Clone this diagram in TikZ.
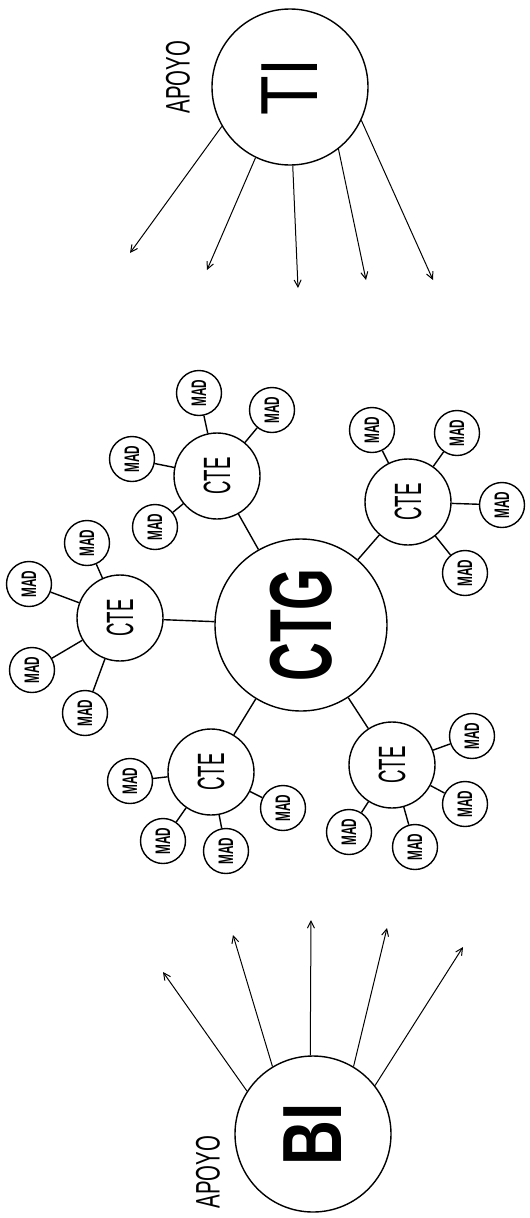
\documentclass[tikz,border=0pt]{standalone}
\usepackage{fontspec}
\setmainfont{Liberation Sans}
\usepackage{graphicx}
\usetikzlibrary{arrows.meta}
\newcommand\vlabel[3]{\rotatebox{90}{\fontsize{#1}{#1}\selectfont\scalebox{#2}[1]{#3}}}
\begin{document}
\begin{tikzpicture}[x=1pt,y=-1pt, line width=1.4pt,
  ctg/.style={circle,draw,minimum size=172pt,inner sep=0pt},
  cte/.style={circle,draw,minimum size=86pt,inner sep=0pt},
  mad/.style={circle,draw,minimum size=45pt,inner sep=0pt},
  big/.style={circle,draw,minimum size=156pt,inner sep=0pt},
  arr/.style={-{Straight Barb[length=7pt,width=7pt]}, line width=1pt},
  link/.style={line width=1.4pt}]
\useasboundingbox (0,0) rectangle (530,1218);
\fill[white] (0,0) rectangle (530,1218);

% TI group
\node[big] (ti) at (290,87) {\vlabel{81}{0.8}{TI}};
\node (apoyo1) at (178,77) {\vlabel{34}{0.6}{APOYO}};
\coordinate (t1) at (130,253);
\coordinate (t2) at (207,270);
\coordinate (t3) at (298,288);
\coordinate (t4) at (366,280);
\coordinate (t5) at (433,280);
\draw[arr] (ti.-150) -- (t1);
\draw[arr] (ti.-116) -- (t2);
\draw[arr] (ti.-88) -- (t3);
\draw[arr] (ti.-52) -- (t4);
\draw[arr] (ti.-25) -- (t5);

% CTG
\node[ctg] (ctg) at (301,625) {\vlabel{88}{0.61}{\bfseries CTG}};

% CTE nodes
\node[cte] (cA) at (217,476) {\vlabel{38}{0.49}{CTE}};
\node[cte] (cB) at (120,618) {\vlabel{38}{0.49}{CTE}};
\node[cte] (cC) at (408,502) {\vlabel{38}{0.49}{CTE}};
\node[cte] (cD) at (211,772) {\vlabel{38}{0.49}{CTE}};
\node[cte] (cE) at (392,765) {\vlabel{38}{0.49}{CTE}};
\foreach \c in {cA,cB,cC,cD,cE} \draw[link] (ctg) -- (\c);

% MAD nodes
\foreach \n/\p/\c in {a1/{(132,459)}/cA, a2/{(155,527)}/cA, a3/{(199,393)}/cA, a4/{(272,410)}/cA,
  b1/{(87,543)}/cB, b2/{(29,584)}/cB, b3/{(32,670)}/cB, b4/{(85,713)}/cB,
  c1/{(372,430)}/cC, c2/{(457,433)}/cC, c3/{(502,505)}/cC, c4/{(465,573)}/cC,
  d1/{(130,781)}/cD, d2/{(283,808)}/cD, d3/{(163,841)}/cD, d4/{(226,851)}/cD,
  e1/{(472,736)}/cE, e2/{(465,804)}/cE, e3/{(349,832)}/cE, e4/{(415,847)}/cE}
{
  \node[mad] (\n) at \p {\vlabel{21}{0.56}{\bfseries MAD}};
  \draw[link] (\c) -- (\n);
}

% BI group
\node[big] (bi) at (313,1134) {\vlabel{84}{0.74}{\bfseries BI}};
\node (apoyo2) at (208,1172) {\vlabel{34}{0.6}{APOYO}};
\coordinate (b1) at (163,972);
\coordinate (b2) at (233,935);
\coordinate (b3) at (311,920);
\coordinate (b4) at (387,928);
\coordinate (b5) at (463,947);
\draw[arr] (bi.147) -- (b1);
\draw[arr] (bi.121) -- (b2);
\draw[arr] (bi.92) -- (b3);
\draw[arr] (bi.59) -- (b4);
\draw[arr] (bi.38) -- (b5);
\end{tikzpicture}
\end{document}
